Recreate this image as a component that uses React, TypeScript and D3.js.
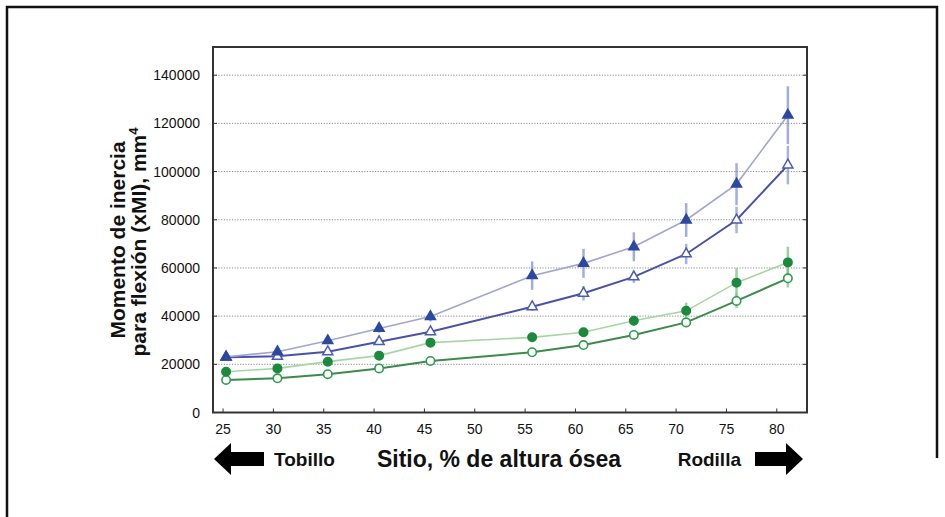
import * as d3 from 'd3';

// site (% of bone height) where each group was measured
const sites = [25.3, 30.4, 35.4, 40.5, 45.6, 55.7, 60.8, 65.8, 71.0, 76.0, 81.1];
const xTicks = [25, 30, 35, 40, 45, 50, 55, 60, 65, 70, 75, 80];
const yTicks = [0, 20000, 40000, 60000, 80000, 100000, 120000, 140000];

// filled triangles (upper blue)
const blueFilled = [23100, 25200, 29800, 34900, 39800, 56800, 61900, 68800, 79900, 94800, 123400];
const blueFilledErr = [1200, 1200, 1500, 1800, 2000, 5900, 6000, 6000, 7000, 8700, 12000];
// open triangles (lower blue)
const blueOpen = [22900, 23300, 25200, 29400, 33500, 43900, 49500, 56300, 65800, 79900, 102700];
const blueOpenErr = [800, 800, 1000, 1200, 1500, 1800, 3000, 2500, 4200, 5500, 8000];
// filled circles (upper green)
const greenFilled = [16900, 18300, 21100, 23600, 29000, 31200, 33300, 38100, 42200, 53900, 62300];
const greenFilledErr = [1000, 1000, 1200, 1500, 1500, 1500, 1800, 2000, 3400, 6000, 6500];
// open circles (lower green)
const greenOpen = [13500, 14200, 15900, 18300, 21400, 25000, 28000, 32200, 37400, 46300, 55700];
const greenOpenErr = [700, 700, 800, 1000, 1000, 1200, 1500, 1800, 2000, 3000, 3800];

const W = 945;
const H = 517;
const left = 213, right = 807, top = 47, bottom = 412.5;
const font = '"Liberation Sans", Arial, Helvetica, sans-serif';

const x = d3.scaleLinear().domain([24, 83]).range([left, right]);
const y = d3.scaleLinear().domain([0, 151700]).range([bottom, top]);

type Series = {
  values: number[];
  err: number[];
  line: string;
  lineWidth: number;
  errColor: string;
  marker: 'tri' | 'circle';
  fill: string;
  stroke: string;
};

const series: Series[] = [
  { values: greenOpen, err: greenOpenErr, line: '#3d8a4c', lineWidth: 2, errColor: 'rgba(120,190,120,0.7)', marker: 'circle', fill: '#ffffff', stroke: '#2f9a50' },
  { values: greenFilled, err: greenFilledErr, line: '#a6d6a4', lineWidth: 1.6, errColor: 'rgba(120,195,120,0.75)', marker: 'circle', fill: '#1b8a3c', stroke: '#1b8a3c' },
  { values: blueOpen, err: blueOpenErr, line: '#4a52a6', lineWidth: 2, errColor: 'rgba(130,145,210,0.7)', marker: 'tri', fill: '#ffffff', stroke: '#4a5cb0' },
  { values: blueFilled, err: blueFilledErr, line: '#a4a4d4', lineWidth: 1.6, errColor: 'rgba(130,145,210,0.75)', marker: 'tri', fill: '#2c48a0', stroke: '#2c48a0' },
];

const line = d3.line<number>()
  .x((_, i) => x(sites[i]))
  .y((d) => y(d));

const tri = d3.symbol().type(d3.symbolTriangle).size(44)() as string;

export default function App() {
  return (
    <svg width={W} height={H} style={{ position: 'absolute', left: 0, top: 0, background: '#fff' }} fontFamily={font}>
      {/* outer frame */}
      <path d={`M7,${H} V7 H937 V458`} fill="none" stroke="#111" strokeWidth={2.5} />

      {/* grid */}
      {yTicks.filter((t) => t > 0).map((t) => (
        <line key={'g' + t} x1={left} x2={right} y1={y(t)} y2={y(t)} stroke="#8a8a8a" strokeWidth={1} strokeDasharray="1.2,1.5" />
      ))}

      {/* ticks */}
      {yTicks.map((t) => (
        <g key={'yt' + t}>
          <line x1={left} x2={left + 4} y1={y(t)} y2={y(t)} stroke="#333" />
          <line x1={right - 4} x2={right} y1={y(t)} y2={y(t)} stroke="#333" />
          <text x={200} y={y(t)} dy="0.36em" textAnchor="end" fontSize={14} fill="#111">{t}</text>
        </g>
      ))}
      {xTicks.map((t) => (
        <g key={'xt' + t}>
          <line x1={x(t)} x2={x(t)} y1={bottom} y2={bottom - 4} stroke="#333" />
          <text x={x(t)} y={434} textAnchor="middle" fontSize={14} fill="#111">{t}</text>
        </g>
      ))}

      {/* lines */}
      {series.map((s, k) => (
        <path key={'l' + k} d={line(s.values) as string} fill="none" stroke={s.line} strokeWidth={s.lineWidth} />
      ))}

      {/* error bars */}
      {series.map((s, k) => s.values.map((v, i) => (
        <line key={'e' + k + '-' + i} x1={x(sites[i])} x2={x(sites[i])} y1={y(v - s.err[i])} y2={y(v + s.err[i])} stroke={s.errColor} strokeWidth={2.5} />
      )))}

      {/* markers */}
      {series.map((s, k) => s.values.map((v, i) => s.marker === 'tri' ? (
        <path key={'m' + k + '-' + i} d={tri} transform={`translate(${x(sites[i])},${y(v)})`} fill={s.fill} stroke={s.stroke} strokeWidth={1.5} />
      ) : (
        <circle key={'m' + k + '-' + i} cx={x(sites[i])} cy={y(v)} r={4.2} fill={s.fill} stroke={s.stroke} strokeWidth={1.6} />
      )))}

      {/* plot frame */}
      <rect x={left} y={top} width={right - left} height={bottom - top} fill="none" stroke="#333" strokeWidth={2} />

      {/* y-axis title */}
      <g fontWeight="bold" fontSize={21} fill="#111" textAnchor="middle">
        <text transform={`translate(125,240) rotate(-90)`}>Momento de inercia</text>
        <text transform={`translate(146,242) rotate(-90)`}>
          para flexión (xMI), mm<tspan fontSize={13} dy={-8}>4</tspan>
        </text>
      </g>

      {/* x-axis title and arrows */}
      <g fontWeight="bold" fill="#111">
        <text x={499} y={467} textAnchor="middle" fontSize={23}>Sitio, % de altura ósea</text>
        <text x={274} y={466} fontSize={19}>Tobillo</text>
        <text x={741} y={466} fontSize={19} textAnchor="end">Rodilla</text>
        <polygon points="214,459 231,443 231,452 264,452 264,466 231,466 231,475" fill="#000" />
        <polygon points="803,459 786,443 786,452 755,452 755,466 786,466 786,475" fill="#000" />
      </g>
    </svg>
  );
}
